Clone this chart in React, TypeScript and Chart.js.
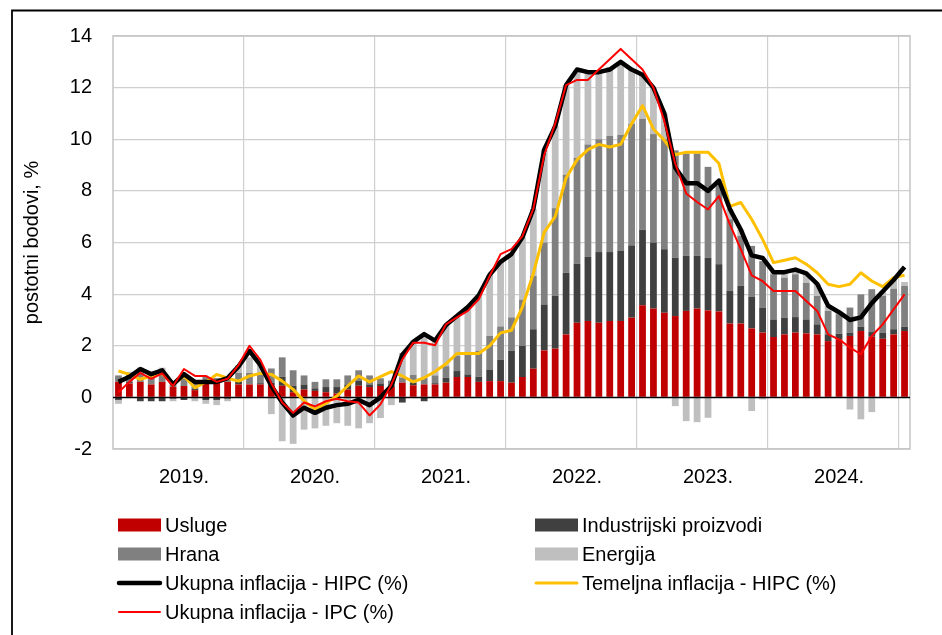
import React, { useEffect, useRef } from 'react';
import { Chart, registerables } from 'chart.js';

Chart.register(...registerables);

const FONT = '"Liberation Sans", Arial, sans-serif';

const years = [2019, 2020, 2021, 2022, 2023, 2024];
const monthLabels: string[] = [];
years.forEach((y) => {
  for (let m = 1; m <= 12; m++) monthLabels.push(`${m}.${y}.`);
});
monthLabels.push('1.2025.');

// Contributions (percentage points)
const services = [
  0.6, 0.54, 0.6, 0.5, 0.6, 0.41, 0.44, 0.28, 0.54, 0.6, 0.6, 0.5,
  0.5, 0.5, 0.47, 0.45, 0.2, 0.3, 0.25, 0.2, 0.15, 0.3, 0.45, 0.4,
  0.44, 0.4, 0.57, 0.47, 0.5, 0.5, 0.57, 0.79, 0.79, 0.6, 0.63, 0.63,
  0.57, 0.79, 1.11, 1.82, 1.89, 2.44, 2.89, 2.96, 2.89, 2.96, 2.96, 3.09,
  3.57, 3.44, 3.28, 3.15, 3.35, 3.44, 3.37, 3.33, 2.86, 2.86, 2.67, 2.51,
  2.34, 2.44, 2.51, 2.48, 2.44, 2.18, 2.25, 2.38, 2.57, 2.35, 2.27, 2.44,
  2.57,
];
const industrial = [
  -0.1, 0.05, -0.15, -0.15, -0.15, -0.05, -0.1, 0.05, -0.1, -0.1, -0.05, 0.1,
  0.0, 0.05, 0.1, 0.35, 0.25, 0.2, 0.1, 0.2, 0.25, 0.2, 0.2, 0.1,
  0.1, 0.05, -0.2, 0.1, -0.15, 0.05, 0.19, 0.23, 0.1, 0.2, 0.45, 0.82,
  1.23, 1.2, 1.53, 1.78, 2.04, 2.39, 2.29, 2.48, 2.74, 2.67, 2.71, 2.8,
  2.92, 2.56, 2.46, 2.26, 2.13, 2.04, 2.04, 1.83, 1.26, 1.46, 1.22, 0.97,
  0.68, 0.65, 0.6, 0.54, 0.39, 0.26, 0.22, 0.13, 0.17, 0.18, 0.24, 0.2,
  0.17,
];
const food = [
  0.25, 0.3, 0.35, 0.3, 0.35, 0.2, 0.3, 0.3, 0.25, 0.15, 0.2, 0.35,
  0.45, 0.4, 0.55, 0.75, 0.6, 0.35, 0.25, 0.3, 0.3, 0.35, 0.4, 0.35,
  0.2, 0.2, 0.2, 0.3, 0.25, 0.3, 0.45, 0.6, 0.8, 1.0, 1.3, 1.3,
  1.3, 1.8, 2.06, 2.4, 3.4, 3.8, 4.1, 4.36, 4.37, 4.5, 4.5, 4.7,
  4.3, 4.2, 4.26, 4.16, 3.97, 3.97, 3.52, 3.14, 2.78, 1.93, 1.98, 1.8,
  1.75, 1.55, 1.66, 1.42, 1.1, 0.91, 0.75, 0.97, 1.25, 1.66, 1.42, 1.57,
  1.58,
];
const energy = [
  -0.15, 0.1, 0.2, 0.15, 0.2, -0.1, 0.15, -0.15, -0.15, -0.2, -0.1, 0.3,
  0.6, 0.3, -0.65, -1.7, -1.8, -1.25, -1.2, -1.1, -1.0, -1.1, -1.2, -1.0,
  -0.8, -0.3, 0.95, 1.33, 1.69, 1.35, 1.62, 1.53, 1.81, 2.15, 2.37, 2.5,
  2.45, 2.41, 2.6, 3.6, 3.2, 3.47, 3.32, 2.87, 2.67, 2.67, 2.78, 2.1,
  1.7, 1.8, 1.0, -0.34, -0.92, -0.96, -0.79, 0.1, 0.4, 0.25, -0.53, -0.08,
  0.12, 0.2, 0.2, 0.3, 0.45, 0.2, 0.05, -0.47, -0.85, -0.57, 0.2, 0.35,
  0.15,
];

// Inflation rates (%)
const hicp = [
  0.6, 0.8, 1.1, 0.9, 1.05, 0.5, 0.9, 0.6, 0.6, 0.6, 0.75, 1.2,
  1.8, 1.25, 0.45, -0.2, -0.7, -0.4, -0.6, -0.4, -0.3, -0.25, -0.1, -0.3,
  0.0, 0.45, 1.65, 2.15, 2.45, 2.2, 2.8, 3.15, 3.5, 3.95, 4.75, 5.25,
  5.55, 6.2, 7.3, 9.6, 10.5, 12.1, 12.7, 12.6, 12.6, 12.7, 13.0, 12.7,
  12.5, 12.0, 11.0, 8.9, 8.3, 8.3, 8.0, 8.4, 7.3, 6.5, 5.5, 5.4,
  4.85, 4.85, 4.95, 4.8, 4.4, 3.55, 3.3, 3.0, 3.1, 3.65, 4.1, 4.55,
  5.05,
];
const core = [
  1.02, 0.89, 0.7, 0.83, 0.93, 0.5, 0.83, 0.37, 0.6, 0.89, 0.74, 0.63,
  0.83, 0.93, 0.89, 0.63, 0.31, -0.14, -0.47, -0.23, 0.05, 0.44, 0.83, 0.6,
  0.8, 1.0, 0.83, 0.6, 0.76, 1.0, 1.3, 1.7, 1.7, 1.7, 2.0, 2.5,
  2.6, 3.5, 4.8, 6.4, 7.0, 8.5, 9.2, 9.6, 9.8, 9.7, 9.8, 10.6,
  11.3, 10.4, 9.96, 9.4, 9.5, 9.5, 9.5, 9.06, 7.4, 7.55, 6.9, 6.12,
  5.22, 5.31, 5.41, 5.16, 4.83, 4.38, 4.29, 4.38, 4.83, 4.51, 4.29, 4.64,
  4.73,
];
const ipc = [
  0.2, 0.6, 0.95, 0.72, 0.93, 0.44, 1.1, 0.83, 0.83, 0.6, 0.72, 1.25,
  2.0, 1.45, 0.55, -0.2, -0.6, -0.2, -0.35, -0.15, -0.05, -0.15, -0.2, -0.7,
  -0.27, 0.5, 1.47, 2.12, 2.12, 2.02, 2.83, 3.1, 3.35, 3.8, 4.7, 5.55,
  5.74, 6.25, 7.3, 9.4, 10.6, 12.1, 12.3, 12.3, 12.7, 13.1, 13.5, 13.1,
  12.7, 12.0, 10.7, 9.05, 7.9, 7.57, 7.28, 7.8, 6.7, 5.74, 4.73, 4.5,
  4.12, 4.12, 4.12, 3.73, 3.35, 2.44, 2.25, 1.93, 1.67, 2.38, 2.83, 3.41,
  3.99,
];

const yTicks = { min: -2, max: 14, step: 2 };
const yTitle = 'postotni bodovi, %';

// legend rows: [left column label, right column label]
const legendRows: (string | null)[][] = [
  ['Usluge', 'Industrijski proizvodi'],
  ['Hrana', 'Energija'],
  ['Ukupna inflacija - HIPC (%)', 'Temeljna inflacija - HIPC (%)'],
  ['Ukupna inflacija - IPC (%)', null],
];

const framePlugin = {
  id: 'frame',
  beforeDatasetsDraw(chart: any) {
    const { ctx, chartArea } = chart;
    ctx.save();
    ctx.strokeStyle = '#C4C4C4';
    ctx.lineWidth = 1.5;
    ctx.strokeRect(chartArea.left, chartArea.top, chartArea.right - chartArea.left, chartArea.bottom - chartArea.top);
    ctx.restore();
  },
  afterDatasetDraw(chart: any, args: any) {
    if (args.index !== 3) return;
    const { ctx, chartArea } = chart;
    const y = Math.round(chart.scales.y.getPixelForValue(0)) + 0.5;
    ctx.save();
    ctx.strokeStyle = '#000';
    ctx.lineWidth = 1.5;
    ctx.beginPath();
    ctx.moveTo(chartArea.left, y);
    ctx.lineTo(chartArea.right, y);
    ctx.stroke();
    ctx.restore();
  },
  afterDraw(chart: any) {
    const { ctx } = chart;
    ctx.save();
    // outer border
    ctx.strokeStyle = '#000';
    ctx.lineWidth = 1.8;
    ctx.beginPath();
    ctx.moveTo(12, chart.height);
    ctx.lineTo(12, 10.5);
    ctx.lineTo(chart.width, 10.5);
    ctx.stroke();

    // legend
    const colX = [118, 535];
    const rowY0 = 525;
    const rowGap = 29;
    ctx.font = `20px ${FONT}`;
    ctx.textBaseline = 'middle';
    ctx.textAlign = 'left';
    legendRows.forEach((row, r) => {
      row.forEach((label, c) => {
        if (!label) return;
        const ds: any = chart.data.datasets.find((d: any) => d.label === label);
        if (!ds) return;
        const x = colX[c];
        const y = rowY0 + r * rowGap;
        if (ds.type === 'line') {
          ctx.strokeStyle = ds.borderColor;
          ctx.lineWidth = ds.borderWidth;
          ctx.lineCap = 'round';
          ctx.beginPath();
          ctx.moveTo(x + 1, y);
          ctx.lineTo(x + 42, y);
          ctx.stroke();
        } else {
          ctx.fillStyle = ds.backgroundColor;
          ctx.fillRect(x, y - 6.5, 43, 13);
        }
        ctx.fillStyle = '#000';
        ctx.fillText(label, x + 47, y + 1);
      });
    });
    ctx.restore();
  },
};

export default function App() {
  const ref = useRef<HTMLCanvasElement>(null);
  useEffect(() => {
    const canvas = ref.current!;
    const chart = new Chart(canvas, {
      type: 'bar',
      data: {
        labels: monthLabels,
        datasets: [
          { type: 'line', label: 'Ukupna inflacija - IPC (%)', data: ipc, borderColor: '#FF0000', borderWidth: 2, pointRadius: 0, stack: 'l1', order: 0, tension: 0, borderJoinStyle: 'round' } as any,
          { type: 'line', label: 'Ukupna inflacija - HIPC (%)', data: hicp, borderColor: '#000000', borderWidth: 4.5, pointRadius: 0, stack: 'l2', order: 0, tension: 0, borderJoinStyle: 'round' } as any,
          { type: 'line', label: 'Temeljna inflacija - HIPC (%)', data: core, borderColor: '#FFC000', borderWidth: 3, pointRadius: 0, stack: 'l3', order: 0, tension: 0, borderJoinStyle: 'round' } as any,
          { label: 'Usluge', data: services, backgroundColor: '#C00000', stack: 'b', order: 1, barPercentage: 0.62, categoryPercentage: 1 },
          { label: 'Industrijski proizvodi', data: industrial, backgroundColor: '#404040', stack: 'b', order: 1, barPercentage: 0.62, categoryPercentage: 1 },
          { label: 'Hrana', data: food, backgroundColor: '#808080', stack: 'b', order: 1, barPercentage: 0.62, categoryPercentage: 1 },
          { label: 'Energija', data: energy, backgroundColor: '#BFBFBF', stack: 'b', order: 1, barPercentage: 0.62, categoryPercentage: 1 },
        ],
      },
      options: {
        responsive: false,
        animation: false,
        devicePixelRatio: 1,
        layout: { padding: { left: 20, right: 32, top: 36, bottom: 141 } },
        plugins: { legend: { display: false }, tooltip: { enabled: false } },
        scales: {
          x: {
            stacked: true,
            offset: true,
            border: { display: false },
            grid: {
              offset: true,
              drawTicks: false,
              lineWidth: 1.2,
              color: (c: any) => (c.index !== undefined && c.index > 0 && c.index % 12 === 0 ? '#CFCFCF' : 'rgba(0,0,0,0)'),
            },
            ticks: {
              autoSkip: false,
              maxRotation: 0,
              minRotation: 0,
              padding: 16,
              color: '#000',
              font: { size: 20, family: FONT },
              callback: (_v: any, i: number) => (i % 12 === 6 ? `${years[Math.floor(i / 12)]}.` : ''),
            },
            afterFit: (s: any) => { s.height = 45; },
          },
          y: {
            stacked: true,
            min: yTicks.min,
            max: yTicks.max,
            border: { display: false },
            grid: {
              drawTicks: false,
              lineWidth: 1.2,
              color: (c: any) => (c.tick && c.tick.value === 0 ? 'rgba(0,0,0,0)' : '#CFCFCF'),
            },
            ticks: { stepSize: yTicks.step, padding: 21, color: '#000', font: { size: 20, family: FONT } },
            title: { display: true, text: yTitle, color: '#000', font: { size: 20, family: FONT }, padding: 0 },
            afterFit: (s: any) => { s.width = 93; },
          },
        },
      },
      plugins: [framePlugin],
    });
    return () => chart.destroy();
  }, []);
  return (
    <div style={{ position: 'absolute', left: 0, top: 0, width: 942, height: 635, background: '#fff' }}>
      <canvas ref={ref} width={942} height={635} style={{ display: 'block' }} />
    </div>
  );
}
